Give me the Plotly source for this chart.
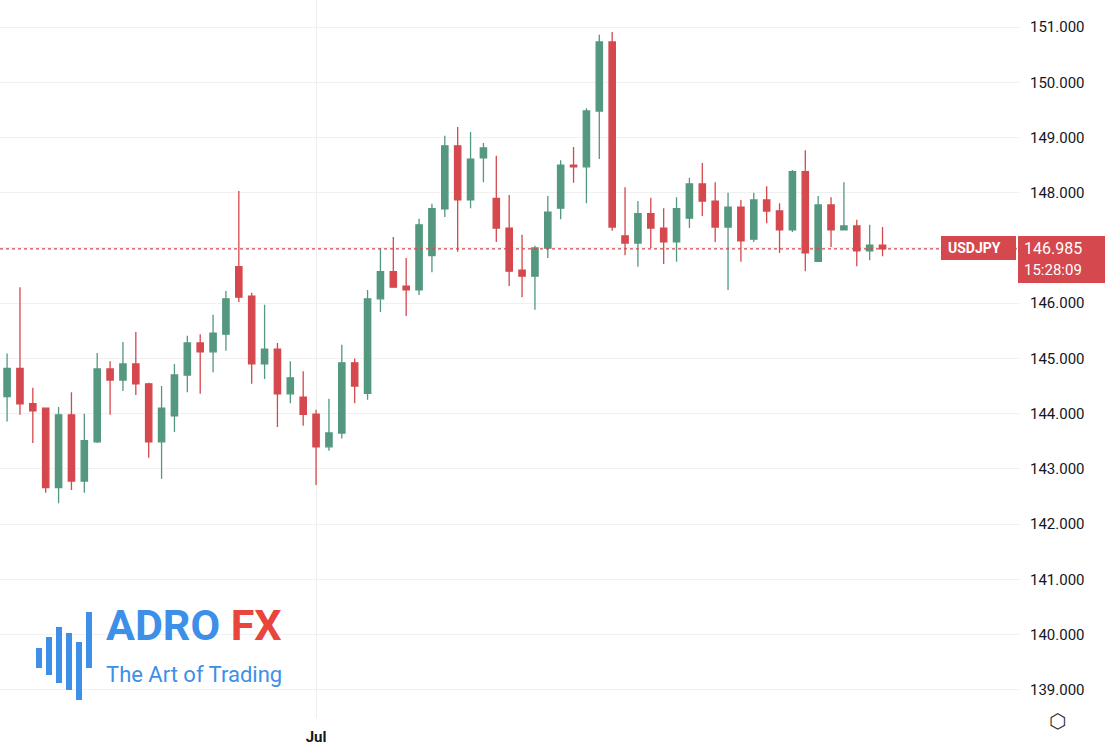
import plotly.graph_objects as go

# USDJPY daily candles
opens = [144.31, 144.82, 144.18, 144.10, 142.66, 143.98, 142.78, 143.49, 144.81, 144.61,
         144.90, 144.54, 143.49, 143.96, 144.70, 145.28, 145.12, 145.44, 146.66, 146.13,
         144.90, 145.17, 144.36, 144.30, 143.99, 143.40, 143.65, 144.92, 144.37, 146.08,
         146.57, 146.31, 146.24, 146.86, 147.71, 148.85, 147.87, 148.63, 147.90, 147.36,
         146.60, 146.49, 147.00, 147.72, 148.50, 148.47, 149.48, 150.73, 147.22, 147.09,
         147.62, 147.36, 147.11, 147.54, 148.16, 147.85, 147.38, 147.74, 147.16, 147.87,
         147.67, 147.33, 148.38, 146.76, 147.78, 147.33, 147.40, 146.95, 147.05]
highs = [145.09, 146.29, 144.47, 144.10, 144.12, 144.39, 144.00, 145.10, 144.95, 145.30,
         145.48, 144.56, 144.50, 144.90, 145.41, 145.44, 145.79, 146.22, 148.03, 146.19,
         145.97, 145.28, 144.95, 144.77, 144.07, 144.27, 145.25, 145.00, 146.24, 147.00,
         147.20, 146.82, 147.53, 147.80, 149.03, 149.19, 149.10, 148.90, 148.67, 147.96,
         147.24, 147.04, 147.94, 148.59, 148.83, 149.53, 150.86, 150.91, 148.10, 147.85,
         147.91, 147.72, 147.92, 148.27, 148.54, 148.19, 148.00, 147.87, 148.00, 148.12,
         147.81, 148.41, 148.77, 147.94, 147.92, 148.19, 147.51, 147.42, 147.38]
lows = [143.86, 143.98, 143.47, 142.57, 142.38, 142.62, 142.57, 143.47, 143.98, 144.41,
        144.34, 143.20, 142.82, 143.67, 144.39, 144.36, 144.75, 145.14, 146.02, 144.54,
        144.63, 143.76, 144.19, 143.78, 142.71, 143.33, 143.55, 144.19, 144.25, 145.84,
        146.28, 145.77, 146.15, 146.56, 147.56, 146.93, 147.72, 148.19, 147.11, 146.31,
        146.11, 145.88, 146.82, 147.52, 148.18, 147.81, 148.61, 147.31, 146.87, 146.66,
        147.00, 146.71, 146.75, 147.36, 147.58, 147.11, 146.24, 146.75, 147.11, 147.45,
        146.91, 147.29, 146.58, 146.76, 147.02, 147.33, 146.67, 146.78, 146.85]
closes = [144.82, 144.18, 144.05, 142.66, 143.98, 142.78, 143.51, 144.81, 144.61, 144.90,
          144.54, 143.49, 144.10, 144.70, 145.28, 145.12, 145.46, 146.08, 146.11, 144.90,
          145.17, 144.36, 144.65, 143.99, 143.40, 143.65, 144.92, 144.50, 146.08, 146.57,
          146.29, 146.24, 147.42, 147.71, 148.85, 147.87, 148.61, 148.81, 147.36, 146.58,
          146.49, 147.00, 147.65, 148.50, 148.47, 149.48, 150.73, 147.38, 147.09, 147.62,
          147.36, 147.11, 147.71, 148.16, 147.85, 147.38, 147.74, 147.13, 147.87, 147.67,
          147.33, 148.38, 146.91, 147.78, 147.33, 147.40, 146.95, 147.05, 146.985]
jul_index = 24
last_price = 146.985
price_ticks = [139, 140, 141, 142, 143, 144, 145, 146, 147, 148, 149, 150, 151]

idx = list(range(len(opens)))
green = "#53987f"
red = "#d5484d"

fig = go.Figure(go.Candlestick(
    x=idx, open=opens, high=highs, low=lows, close=closes,
    increasing=dict(line=dict(color=green, width=1.3), fillcolor=green),
    decreasing=dict(line=dict(color=red, width=1.3), fillcolor=red),
    whiskerwidth=0, showlegend=False, hoverinfo="skip"))

fig.add_hline(y=last_price, line=dict(color=red, width=1.2, dash="dot"))

W, H = 1019, 718
def px(x, y):
    return x / W, 1 - y / H

# price label boxes
fig.add_shape(type="rect", xref="paper", yref="paper",
              x0=px(941, 0)[0], x1=px(1016, 0)[0], y0=px(0, 260)[1], y1=px(0, 236)[1],
              fillcolor=red, line_width=0)
fig.add_shape(type="rect", xref="paper", yref="paper",
              x0=px(1018, 0)[0], x1=px(1105, 0)[0], y0=px(0, 283)[1], y1=px(0, 236)[1],
              fillcolor=red, line_width=0)
fig.add_annotation(x=px(946, 0)[0], y=px(0, 248)[1], xref="paper", yref="paper", xanchor="left",
                   text="<b>USDJPY</b>", showarrow=False, font=dict(color="white", size=14))
fig.add_annotation(x=px(1022, 0)[0], y=px(0, 248)[1], xref="paper", yref="paper", xanchor="left",
                   text="%.3f" % last_price, showarrow=False, font=dict(color="white", size=16))
fig.add_annotation(x=px(1022, 0)[0], y=px(0, 270)[1], xref="paper", yref="paper", xanchor="left",
                   text="15:28:09", showarrow=False, font=dict(color="white", size=15))

# logo
bars = [(36, 648, 668), (46, 637, 675), (56, 627, 683), (66, 633, 690), (76, 642, 700), (86, 612, 668)]
for bx, t, b in bars:
    x0, y1 = px(bx, t)
    x1, y0 = px(bx + 6, b)
    fig.add_shape(type="rect", xref="paper", yref="paper", x0=x0, x1=x1, y0=y0, y1=y1,
                  fillcolor="#3d8fe8", line_width=0)
fig.add_annotation(x=px(104, 0)[0], y=px(0, 652)[1], xref="paper", yref="paper", xanchor="left",
                   text="<b><span style='color:#3d8fe8'>ADRO</span> <span style='color:#e8453c'>FX</span></b>",
                   showarrow=False, font=dict(size=43, family="Roboto"))
fig.add_annotation(x=px(104, 0)[0], y=px(0, 689)[1], xref="paper", yref="paper", xanchor="left",
                   text="The Art of Trading", showarrow=False,
                   font=dict(size=22, color="#3d8fe8", family="Roboto"))
fig.add_annotation(x=px(1068, 0)[0], y=px(0, 735)[1], xref="paper", yref="paper",
                   text="⬡", showarrow=False, font=dict(size=20, color="#333"))

fig.update_layout(
    width=1114, height=756, margin=dict(l=0, r=95, t=0, b=38, autoexpand=False),
    plot_bgcolor="white", paper_bgcolor="white",
    font=dict(family="Roboto", color="#131722"),
    xaxis=dict(range=[-0.55, 78.6], rangeslider_visible=False, showgrid=True,
               gridcolor="#eeeeee", tickvals=[jul_index], ticktext=["<b>Jul</b>"],
               tickfont=dict(size=15), zeroline=False, showline=False, ticks="", automargin=False,
               ticklabelstandoff=8),
    yaxis=dict(range=[138.49, 151.49], side="right", tickvals=price_ticks,
               ticktext=["" if v == 147 else "%.3f" % v for v in price_ticks], tickfont=dict(size=15),
               gridcolor="#f0f0f0", zeroline=False, showline=False, ticks="", ticklabelstandoff=10,
               automargin=False),
)

fig.write_html("out.html", config={"displayModeBar": False},
               post_script="document.body.style.margin='0';document.body.style.overflow='hidden';")
